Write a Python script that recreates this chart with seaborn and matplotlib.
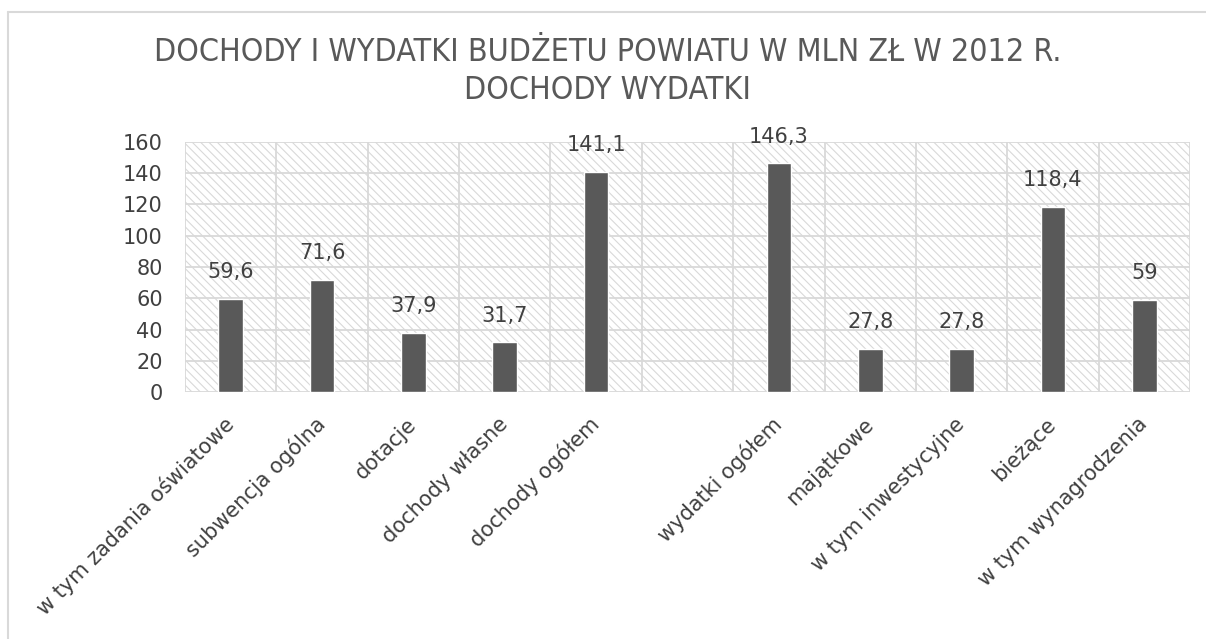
import matplotlib
matplotlib.use("Agg")
import matplotlib.pyplot as plt
import seaborn as sns
import pandas as pd
from matplotlib.patches import Rectangle
from matplotlib.lines import Line2D

# Data
categories = ["w tym zadania oświatowe", "subwencja ogólna", "dotacje",
              "dochody własne", "dochody ogółem",
              "wydatki ogółem", "majątkowe", "w tym inwestycyjne",
              "bieżące", "w tym wynagrodzenia"]
values = [59.6, 71.6, 37.9, 31.7, 141.1, 146.3, 27.8, 27.8, 118.4, 59]
# empty slot between revenues and expenses
order = categories[:5] + [""] + categories[5:]
y_ticks = [0, 20, 40, 60, 80, 100, 120, 140, 160]

title_lines = ["DOCHODY I WYDATKI BUDŻETU POWIATU W MLN ZŁ W 2012 R.",
               "DOCHODY WYDATKI"]

sns.set_style("white")
plt.rcParams['font.family'] = ['DejaVu Sans']
plt.rcParams['hatch.color'] = '#d9d9d9'
plt.rcParams['hatch.linewidth'] = 0.8

TEXT = '#404040'
GRID = '#d9d9d9'
BAR = '#595959'

df = pd.DataFrame({"kategoria": categories, "wartosc": values})

fig = plt.figure(figsize=(12.06, 6.39), dpi=100)
ax = fig.add_axes([0.1534, 0.3865, 0.8333, 0.3913])

# hatched plot background
bg = Rectangle((0, 0), 1, 1, transform=ax.transAxes, facecolor='white',
               edgecolor=GRID, hatch='\\\\\\\\', linewidth=0, zorder=0)
ax.add_patch(bg)

sns.barplot(data=df, x="kategoria", y="wartosc", order=order, color=BAR,
            saturation=1, width=0.27, ax=ax, zorder=3)

ax.set_xlim(-0.5, len(order) - 0.5)
ax.set_ylim(0, 160)
ax.set_yticks(y_ticks)
ax.set_xlabel("")
ax.set_ylabel("")

# grid: horizontal lines and category separators
for y in y_ticks:
    ax.axhline(y, color=GRID, linewidth=1.3, zorder=1)
for i in range(len(order) + 1):
    ax.axvline(i - 0.5, color=GRID, linewidth=1.3, zorder=1)
for s in ax.spines.values():
    s.set_visible(False)

# value labels
for container in ax.containers:
    labels = [f"{bar.get_height():g}".replace('.', ',') for bar in container]
    ax.bar_label(container, labels=labels, padding=12, fontsize=15, color=TEXT)

ax.tick_params(axis='y', length=0, pad=16, labelsize=15, labelcolor=TEXT)
ax.tick_params(axis='x', length=0, pad=21, labelsize=15, labelcolor=TEXT)
ax.set_xticks(range(len(order)))
ax.set_xticklabels(order, rotation=45, ha='right', va='center',
                   rotation_mode='anchor')

# title
for k, yy in enumerate([0.918, 0.859]):
    fig.text(0.504, yy, title_lines[k], ha='center', va='center',
             fontsize=23, color='#595959', family='DejaVu Sans',
             fontstretch='condensed')

# chart border (top and left edges visible)
fig.add_artist(Line2D([8 / 1206, 1], [1 - 12 / 639, 1 - 12 / 639],
                      transform=fig.transFigure, color=GRID, linewidth=1.5))
fig.add_artist(Line2D([8 / 1206, 8 / 1206], [0, 1 - 12 / 639],
                      transform=fig.transFigure, color=GRID, linewidth=1.5))

fig.savefig("out.png", dpi=100)
